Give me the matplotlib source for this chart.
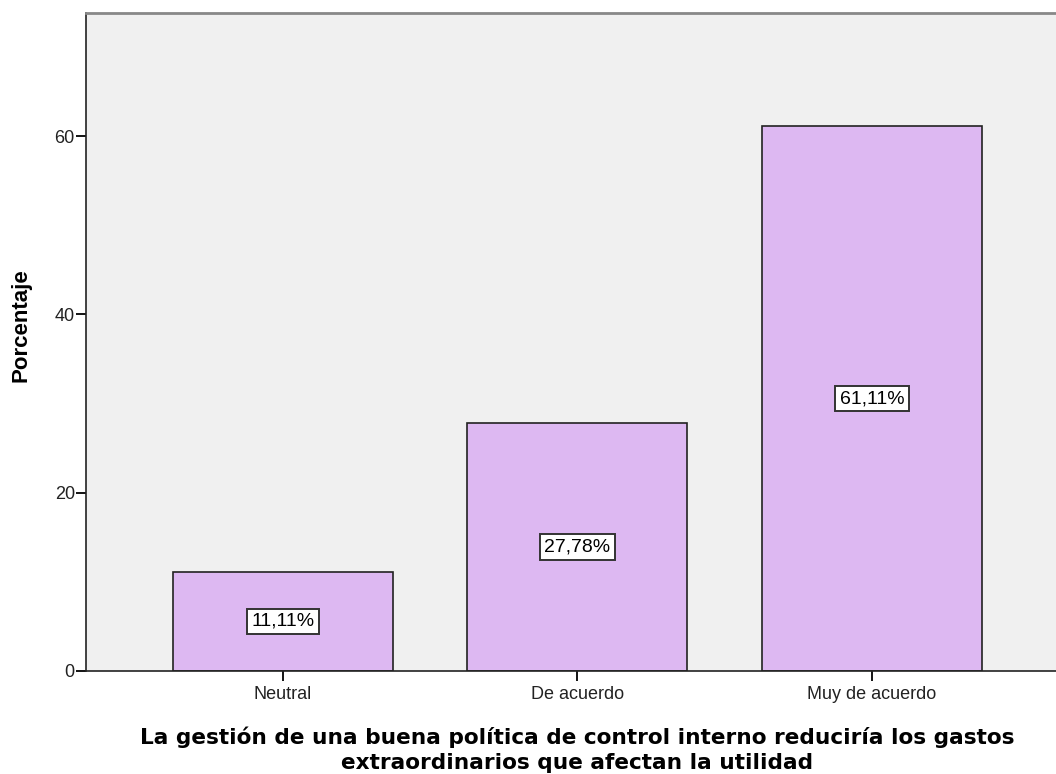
import matplotlib
matplotlib.use("Agg")
import matplotlib.pyplot as plt

# respuestas y porcentajes
categorias = ["Neutral", "De acuerdo", "Muy de acuerdo"]
porcentajes = [11.11, 27.78, 61.11]
etiquetas = ["11,11%", "27,78%", "61,11%"]

plt.rcParams['font.family'] = ['Liberation Sans', 'DejaVu Sans']

fig = plt.figure(figsize=(10.56, 7.74), dpi=100)
ax = fig.add_axes([0.0814, 0.1331, 0.9186, 0.8501])
ax.set_facecolor("#F0F0F0")

x = range(len(categorias))
ax.bar(x, porcentajes, width=0.747, color="#DDB8F2", edgecolor="#222222", linewidth=1.2)

for i, (v, t) in enumerate(zip(porcentajes, etiquetas)):
    ax.text(i, v / 2, t, ha="center", va="center", fontsize=14,
            bbox=dict(boxstyle="square,pad=0.22", facecolor="white", edgecolor="#333333", linewidth=1.4))

ax.set_xlim(-0.669, 2.625)
ax.set_ylim(0, 73.8)
ax.set_xticks(list(x))
ax.set_xticklabels(categorias, fontsize=13, color="#222222")
ax.set_yticks([0, 20, 40, 60])
ax.tick_params(axis="y", labelsize=13, labelcolor="#222222", length=7, width=1.3, direction="out", pad=1)
ax.tick_params(axis="x", length=7, width=1.3, direction="out", pad=4)

for s in ["left", "bottom"]:
    ax.spines[s].set_color("#222222")
    ax.spines[s].set_linewidth(1.2)
ax.spines["top"].set_color("#888888")
ax.spines["top"].set_linewidth(2)
ax.spines["right"].set_visible(False)

ax.set_ylabel("Porcentaje", fontsize=16, fontweight="bold")
ax.yaxis.set_label_coords(-0.056, 0.526)
ax.set_xlabel("La gestión de una buena política de control interno reduciría los gastos\nextraordinarios que afectan la utilidad",
              fontsize=15.6, fontweight="bold", family="DejaVu Sans", linespacing=1.27)
ax.xaxis.set_label_coords(0.506, -0.085)

fig.savefig("out.png", dpi=100)
